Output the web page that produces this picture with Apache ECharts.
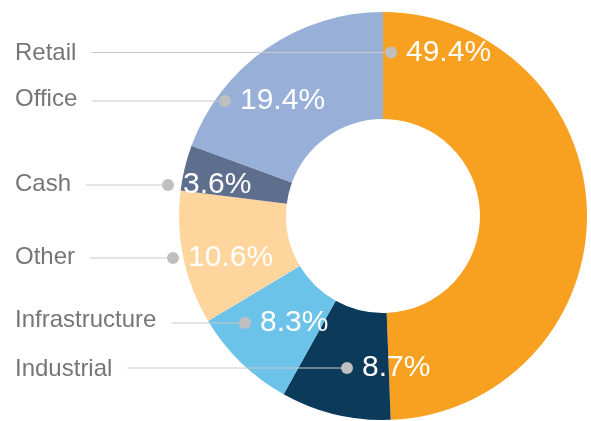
<!DOCTYPE html>
<html>
<head>
<meta charset="utf-8">
<script src="https://cdn.jsdelivr.net/npm/echarts@6/dist/echarts.min.js"></script>
<style>
  html, body { margin: 0; padding: 0; background: #ffffff; }
  #chart { width: 591px; height: 421px; }
</style>
</head>
<body>
<div id="chart"></div>
<script>
// ---- data ----
const categories = ['Retail', 'Industrial', 'Infrastructure', 'Other', 'Cash', 'Office'];
const shares = [49.4, 8.7, 8.3, 10.6, 3.6, 19.4];
const sliceColors = ['#F8A01F', '#0C3A5B', '#6CC3E9', '#FDD59D', '#5E6E8D', '#98AFD7'];

// ---- label layout (annotation placement, separate from data) ----
const NAME_X = 15;
const ROW_Y = [52.5, 368, 323, 258, 185, 101];
const NAME_Y = [53, 369, 320, 257, 184, 99];
const DOT_X = [391, 347, 245, 173, 168, 225];
const DOT_R = 6;

const CENTER = [383, 216];
const RADIUS = [97, 204];

const chart = echarts.init(document.getElementById('chart'), null, { renderer: 'canvas' });

const pieData = categories.map((c, i) => ({
  name: c,
  value: shares[i],
  itemStyle: { color: sliceColors[i] }
}));

const overlayData = categories.map((c, i) => ({ name: c, value: shares[i] }));

const base = {
  type: 'pie',
  center: CENTER,
  radius: RADIUS,
  startAngle: 90,
  clockwise: true,
  avoidLabelOverlap: false,
  silent: true
};

chart.setOption({
  animation: false,
  backgroundColor: '#ffffff',
  series: [
    Object.assign({}, base, {
      z: 2,
      itemStyle: { borderWidth: 0 },
      data: pieData,
      label: { show: false },
      labelLine: { show: false }
    }),
    Object.assign({}, base, {
      z: 3,
      itemStyle: { color: 'rgba(0,0,0,0)', borderWidth: 0 },
      data: overlayData,
      label: {
        show: true,
        position: 'outside',
        formatter: '{b}',
        color: '#767676',
        fontSize: 24,
        fontFamily: 'Liberation Sans, Arial, sans-serif'
      },
      labelLine: {
        show: true,
        lineStyle: { color: '#c9c9c9', width: 1 }
      },
      labelLayout: function (p) {
        const i = p.dataIndex;
        const y = ROW_Y[i];
        const x0 = NAME_X + p.labelRect.width + 15;
        return {
          x: NAME_X,
          y: NAME_Y[i],
          align: 'left',
          verticalAlign: 'middle',
          labelLinePoints: [[x0, y], [x0, y], [DOT_X[i], y]]
        };
      }
    }),
    Object.assign({}, base, {
      z: 4,
      itemStyle: { color: 'rgba(0,0,0,0)', borderWidth: 0 },
      data: overlayData,
      label: {
        show: true,
        position: 'inside',
        formatter: function (p) {
          return '{dot|}{pct|' + p.value.toFixed(1) + '%}';
        },
        rich: {
          dot: {
            width: DOT_R * 2,
            height: DOT_R * 2,
            borderRadius: DOT_R,
            backgroundColor: '#bfbfbf',
            verticalAlign: 'middle'
          },
          pct: {
            color: '#ffffff',
            fontSize: 30,
            fontFamily: 'Liberation Sans, Arial, sans-serif',
            padding: [0, 0, 0, 9],
            verticalAlign: 'middle'
          }
        }
      },
      labelLine: { show: false },
      labelLayout: function (p) {
        const i = p.dataIndex;
        return {
          x: DOT_X[i] - DOT_R,
          y: ROW_Y[i],
          align: 'left',
          verticalAlign: 'middle'
        };
      }
    })
  ]
});
</script>
</body>
</html>
